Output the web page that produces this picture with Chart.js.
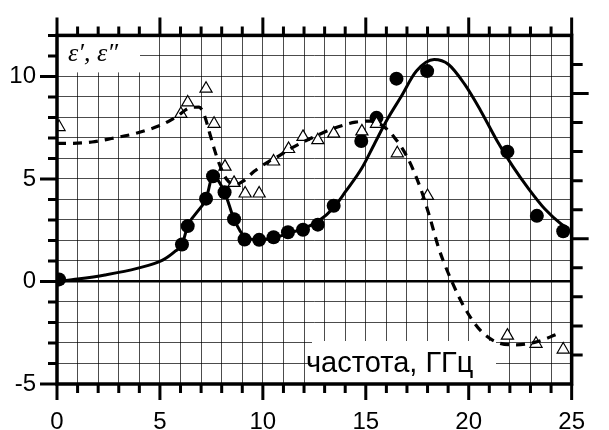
<!DOCTYPE html>
<html>
<head>
<meta charset="utf-8">
<script src="https://cdn.jsdelivr.net/npm/chart.js@4"></script>
<style>
  body { margin: 0; background: #fff; }
  #wrap { width: 609px; height: 430px; position: relative; }
</style>
</head>
<body>
<div id="wrap"><canvas id="eps-chart"></canvas></div>
<script>
// Measured points (circles = eps', triangles = eps'')
const eps1X = [0.1, 6.07, 6.35, 7.24, 7.58, 8.14, 8.6, 9.11, 9.82, 10.52, 11.22, 11.95, 12.67, 13.44, 14.78, 15.52, 16.49, 17.98, 21.88, 23.31, 24.59];
const eps1Y = [0.1, 1.8, 2.7, 4.04, 5.13, 4.35, 3.04, 2.05, 2.03, 2.16, 2.4, 2.52, 2.77, 3.69, 6.85, 7.98, 9.89, 10.26, 6.33, 3.2, 2.45];
const eps2X = [0.1, 6.02, 6.35, 7.24, 7.63, 8.16, 8.6, 9.14, 9.82, 10.52, 11.25, 11.95, 12.67, 13.44, 14.81, 15.52, 16.53, 18.0, 21.88, 23.27, 24.59];
const eps2Y = [7.53, 8.17, 8.73, 9.4, 7.69, 5.6, 4.81, 4.29, 4.29, 5.85, 6.46, 7.05, 6.89, 7.21, 7.32, 7.69, 6.25, 4.17, -2.64, -3.04, -3.32];

// Fitted curves
const fit1X = [0, 1, 2.33, 3.89, 5.13, 5.76, 6.07, 6.35, 7.24, 7.58, 8.14, 8.6, 9.11, 9.82, 10.52, 11.22, 12.0, 12.7, 13.44, 14.03, 14.81, 15.43, 16.06, 16.69, 17.46, 18.32, 19.02, 19.8, 20.58, 21.36, 22.14, 22.93, 23.7, 24.49, 24.87];
const fit1Y = [0, 0.12, 0.32, 0.64, 1.04, 1.49, 1.8, 2.7, 4.04, 5.13, 4.35, 3.04, 2.2, 2.03, 2.13, 2.33, 2.6, 2.95, 3.6, 4.4, 5.53, 6.73, 7.93, 8.97, 10.26, 10.82, 10.58, 9.62, 8.33, 6.89, 5.61, 4.49, 3.53, 2.8, 2.56];
const fit2X = [0, 0.45, 1.7, 2.64, 3.89, 5.13, 5.76, 6.54, 6.9, 7.16, 7.4, 7.63, 7.87, 8.25, 8.65, 9.04, 9.58, 10.28, 10.6, 11.38, 12.31, 13.4, 14.5, 15.28, 15.9, 16.37, 17.0, 17.62, 18.09, 18.55, 19.18, 19.8, 20.58, 21.36, 22.3, 23.24, 24.33];
const fit2Y = [6.73, 6.73, 6.8, 6.97, 7.24, 7.66, 8.01, 8.49, 8.5, 8.1, 7.29, 6.49, 5.77, 4.97, 4.72, 4.89, 5.37, 5.85, 6.01, 6.5, 6.97, 7.45, 7.77, 7.82, 7.53, 7.05, 6.09, 4.65, 3.2, 1.6, 0, -1.28, -2.4, -2.96, -3.09, -2.96, -2.56];

const xTicks = [0, 5, 10, 15, 20, 25];
const yTicks = [-5, 0, 5, 10];
const yLabel = 'ε′, ε″';
const xLabel = 'частота, ГГц';

const pts = (xs, ys) => xs.map((x, i) => ({ x: x, y: ys[i] }));

// frame, outward ticks and label boxes
const framePlugin = {
  id: 'frame',
  beforeDatasetsDraw(chart) {
    const { ctx, chartArea: a } = chart;
    ctx.save();
    ctx.fillStyle = '#fff';
    ctx.fillRect(a.left, a.top, 83, 37);
    ctx.fillRect(312, 341, 184, a.bottom - 341);
    ctx.fillStyle = '#000';
    ctx.textBaseline = 'middle';
    ctx.font = 'italic 26px "Liberation Serif"';
    ctx.fillText(yLabel, 68, 54);
    ctx.font = '29px "Liberation Sans"';
    ctx.fillText(xLabel, 306, 364);
    ctx.restore();
  },
  afterDraw(chart) {
    const { ctx, chartArea: a, scales } = chart;
    const x = scales.x, y = scales.y, y2 = scales.y2;
    ctx.save();
    ctx.strokeStyle = '#000';
    ctx.lineWidth = 3;
    ctx.beginPath();
    for (let v = 0; v <= 25; v++) {
      const px = x.getPixelForValue(v);
      const big = v % 5 === 0;
      ctx.moveTo(px, a.bottom); ctx.lineTo(px, a.bottom + (big ? 16 : 9));
      ctx.moveTo(px, a.top); ctx.lineTo(px, a.top - (big ? 18 : 9));
    }
    for (let v = -5; v <= 12; v++) {
      const py = y.getPixelForValue(v);
      ctx.moveTo(a.left, py); ctx.lineTo(a.left - (v % 5 === 0 ? 17 : 9), py);
    }
    for (let v = -4; v <= 6; v++) {
      const py = y2.getPixelForValue(v);
      ctx.moveTo(a.right, py); ctx.lineTo(a.right + (v % 5 === 0 ? 17 : 11), py);
    }
    ctx.stroke();
    ctx.lineWidth = 3.5;
    ctx.strokeRect(a.left, a.top, a.right - a.left, a.bottom - a.top);
    ctx.restore();
  }
};

const epsChart = document.getElementById('eps-chart');

let epsScatter = new Chart(epsChart, {
  type: 'scatter',
  data: {
    datasets: [{
      label: 'fit eps2',
      data: pts(fit2X, fit2Y),
      showLine: true,
      borderColor: '#000',
      borderWidth: 3.2,
      borderDash: [9, 7],
      cubicInterpolationMode: 'monotone',
      pointRadius: 0
    }, {
      label: 'fit eps1',
      data: pts(fit1X, fit1Y),
      showLine: true,
      borderColor: '#000',
      borderWidth: 3,
      cubicInterpolationMode: 'monotone',
      pointRadius: 0
    }, {
      label: 'eps2',
      data: pts(eps2X, eps2Y),
      pointStyle: 'triangle',
      pointRadius: 7,
      backgroundColor: '#fff',
      borderColor: '#000',
      borderWidth: 1.2
    }, {
      label: 'eps1',
      data: pts(eps1X, eps1Y),
      pointRadius: 7,
      backgroundColor: '#000',
      borderColor: '#000',
      borderWidth: 0
    }]
  },
  options: {
    responsive: true,
    maintainAspectRatio: false,
    animation: false,
    layout: { padding: { top: 30, right: 0, left: 0, bottom: 0 } },
    plugins: {
      legend: { display: false },
      tooltip: { enabled: false }
    },
    scales: {
      x: {
        type: 'linear',
        min: 0,
        max: 25,
        afterFit: (s) => { s.height = 46; },
        border: { display: false },
        grid: {
          color: 'rgba(0,0,0,0.7)',
          lineWidth: 1,
          drawTicks: false
        },
        ticks: {
          stepSize: 1,
          autoSkip: false,
          maxRotation: 0,
          padding: 24,
          color: '#000',
          font: { family: 'Liberation Sans', size: 24 },
          callback: (v) => xTicks.includes(v) ? String(v) : ''
        }
      },
      y: {
        type: 'linear',
        min: -5,
        max: 12,
        afterFit: (s) => { s.width = 57; },
        border: { display: false },
        grid: {
          color: (c) => c.tick && c.tick.value === 0 ? '#000' : 'rgba(0,0,0,0.7)',
          lineWidth: (c) => c.tick && c.tick.value === 0 ? 2.5 : 1,
          drawTicks: false
        },
        ticks: {
          stepSize: 1,
          autoSkip: false,
          padding: 21,
          color: '#000',
          font: { family: 'Liberation Sans', size: 24 },
          callback: (v) => yTicks.includes(v) ? String(v) : ''
        }
      },
      y2: {
        type: 'linear',
        position: 'right',
        min: -5,
        max: 7,
        afterFit: (s) => { s.width = 18; },
        border: { display: false },
        grid: { drawOnChartArea: false, drawTicks: false },
        ticks: { display: false, stepSize: 1 }
      }
    }
  },
  plugins: [framePlugin]
});
</script>
</body>
</html>
